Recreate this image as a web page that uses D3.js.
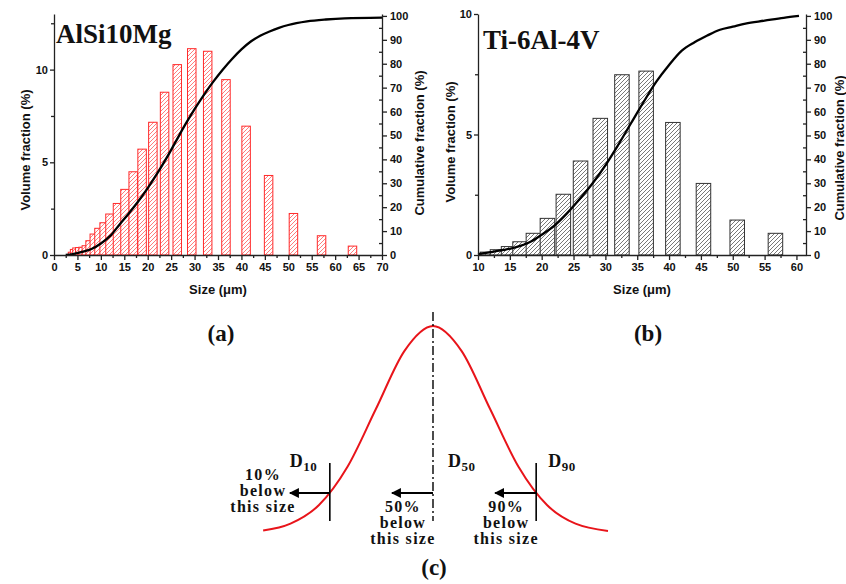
<!DOCTYPE html>
<html>
<head>
<meta charset="utf-8">
<script src="https://cdn.jsdelivr.net/npm/d3@7"></script>
<style>
body {margin:0; background:#fff;}
svg {display:block;}
.tick text {font-family:"Liberation Sans", Arial, sans-serif; font-weight:bold; font-size:11px; fill:#111;}
.domain, .tick line {stroke:#222; stroke-width:1.3;}
.label {font-family:"Liberation Sans", Arial, sans-serif; font-weight:bold; font-size:13px; fill:#111;}
.serif {font-family:"Liberation Serif", "Times New Roman", serif; font-weight:bold; fill:#111;}
</style>
</head>
<body>
<svg id="fig" width="846" height="584"></svg>
<script>

// panel (a) AlSi10Mg
var sizesA  = [3.95,4.4,4.9,5.5,6.2,6.9,7.7,8.6,9.6,10.7,11.95,13.55,15.15,16.9,18.8,21.1,23.6,26.3,29.4,32.8,36.7,41.0,45.8,51.1,57.1,63.7]
var volumeA = [0.15,0.3,0.38,0.4,0.42,0.5,0.77,1.13,1.44,1.74,2.21,2.78,3.54,4.49,5.71,7.16,8.78,10.27,11.13,10.99,9.46,6.95,4.29,2.24,1.04,0.48]
var cumSizeA = [2.5,4,6,8,10,12,14,16,18,20,22,24,26,28,30,32,34,36,38,40,42,44,46,48,50,54,58,62,70]
var cumA     = [0,0.4,1.3,2.5,4.8,8,12.8,17.5,22.5,28,34,40.5,47.5,54.5,61,67,72.5,77.5,82,86,89.3,91.7,93.5,95,96.2,97.7,98.5,99,99.3]
var ticksXA = [0,5,10,15,20,25,30,35,40,45,50,55,60,65,70]

// panel (b) Ti-6Al-4V
var sizesB  = [11.5,13.06,14.8,16.6,18.7,20.9,23.4,26.1,29.2,32.6,36.4,40.6,45.4,50.7,56.7]
var volumeB = [0.12,0.22,0.35,0.55,0.9,1.52,2.52,3.9,5.67,7.48,7.63,5.5,2.97,1.45,0.9]
var cumSizeB = [10,12,14,16,18,20,22,24,26,28,30,32,34,36,38,40,42,44,46,48,50,52,55,58,60.4]
var cumB     = [0.4,1.2,2.1,3.3,5.2,8.5,12.3,17.5,23.5,30,37.5,46,55,64,72.5,79.5,85.5,89,91.8,94.2,95.5,96.8,98,99.2,100]
var ticksXB = [10,15,20,25,30,35,40,45,50,55,60]

var ticksVol = [0,5,10]
var ticksCum = [0,10,20,30,40,50,60,70,80,90,100]

// panel (c) schematic distribution
var bellX = [-2.98,-2.5,-2,-1.5,-1,-0.5,0,0.5,1,1.5,2,2.5,3.07]
var bellY = [0.012,0.045,0.135,0.32,0.6,0.88,1,0.88,0.6,0.32,0.135,0.045,0.01]
var dNames = ["10","50","90"]
var dPos   = [-1.81,0,1.81]
var dArrowTo = [-2.51,-0.72,1.09]
var dText  = [["10%","below","this size"],["50%","below","this size"],["90%","below","this size"]]


var svg = d3.select("#fig")
var defs = svg.append("defs")

var makeHatch = function(id, color)
{
    var p = defs.append("pattern")
        .attr("id", id)
        .attr("width", 4)
        .attr("height", 4)
        .attr("patternUnits", "userSpaceOnUse")
    p.append("rect").attr("width", 4).attr("height", 4).attr("fill", "#fff")
    p.append("path")
        .attr("d", "M-1,1 l2,-2 M0,4 l4,-4 M3,5 l2,-2")
        .attr("stroke", color)
        .attr("stroke-width", 0.8)
}
makeHatch("hatchA", "#ff5c5c")
makeHatch("hatchB", "#555")

defs.append("marker")
    .attr("id", "arrow")
    .attr("viewBox", "0 0 10 10")
    .attr("refX", 9).attr("refY", 5)
    .attr("markerWidth", 10).attr("markerHeight", 10)
    .attr("markerUnits", "userSpaceOnUse")
    .attr("orient", "auto")
    .append("path")
    .attr("d", "M0,0 L10,5 L0,10 z")
    .attr("fill", "#000")


var drawPanel = function(p)
{
    var g = svg.append("g")

    var xScale = d3.scaleLinear().domain(p.xDomain).range([p.left, p.right])
    var yScale = d3.scaleLinear().domain([0, p.yMax]).range([p.bottom, p.top])
    var cumScale = d3.scaleLinear().domain([0, 100.8]).range([p.bottom, p.top])
    var barW = xScale(p.xDomain[0] + p.barWidth) - xScale(p.xDomain[0])

    g.append("g").selectAll("rect")
        .data(p.sizes)
        .enter()
        .append("rect")
        .attr("x", function(s) { return xScale(s) - barW/2 })
        .attr("y", function(s, i) { return yScale(p.volume[i]) })
        .attr("width", barW)
        .attr("height", function(s, i) { return p.bottom - yScale(p.volume[i]) })
        .attr("fill", "url(#" + p.hatch + ")")
        .attr("stroke", p.edge)
        .attr("stroke-width", 1)

    var line = d3.line()
        .x(function(d) { return xScale(d[0]) })
        .y(function(d) { return cumScale(d[1]) })
        .curve(d3.curveMonotoneX)

    g.append("path")
        .datum(d3.zip(p.cumSize, p.cum))
        .attr("d", line)
        .attr("fill", "none")
        .attr("stroke", "#000")
        .attr("stroke-width", 2.3)

    // minor ticks
    var minorX = d3.range(p.xTicks[0] + 2.5, p.xDomain[1], 5)
    g.append("g")
        .attr("transform", "translate(0," + p.bottom + ")")
        .call(d3.axisBottom(xScale).tickValues(minorX).tickSize(3).tickFormat("").tickSizeOuter(0))
        .select(".domain").remove()
    g.append("g")
        .attr("transform", "translate(" + p.left + ",0)")
        .call(d3.axisLeft(yScale).tickValues(d3.range(2.5, p.yMax, 5)).tickSize(3).tickFormat("").tickSizeOuter(0))
        .select(".domain").remove()
    g.append("g")
        .attr("transform", "translate(" + p.right + ",0)")
        .call(d3.axisLeft(cumScale).tickValues(d3.range(5, 100, 10)).tickSize(3).tickFormat("").tickSizeOuter(0))
        .select(".domain").remove()

    g.append("g")
        .attr("transform", "translate(0," + p.bottom + ")")
        .call(d3.axisBottom(xScale).tickValues(p.xTicks).tickSize(5).tickPadding(3).tickSizeOuter(0))
    g.append("g")
        .attr("transform", "translate(" + p.left + ",0)")
        .call(d3.axisLeft(yScale).tickValues(ticksVol).tickSize(4).tickPadding(2).tickSizeOuter(0))
    g.append("g")
        .attr("transform", "translate(" + p.right + ",0)")
        .call(d3.axisRight(cumScale).tickValues(ticksCum).tickSize(5).tickPadding(3).tickSizeOuter(0))

    g.append("text")
        .classed("label", true)
        .attr("text-anchor", "middle")
        .attr("x", (p.left + p.right)/2)
        .attr("y", p.bottom + 39)
        .text("Size (\u03bcm)")

    g.append("text")
        .classed("label", true)
        .attr("text-anchor", "middle")
        .attr("transform", "translate(" + p.volLabel[0] + "," + p.volLabel[1] + ") rotate(-90)")
        .attr("dy", "0.35em")
        .text("Volume fraction (%)")

    g.append("text")
        .classed("label", true)
        .attr("text-anchor", "middle")
        .attr("transform", "translate(" + p.cumLabel[0] + "," + p.cumLabel[1] + ") rotate(-90)")
        .attr("dy", "0.35em")
        .text("Cumulative fraction (%)")

    g.append("text")
        .classed("serif", true)
        .attr("x", p.title[0])
        .attr("y", p.title[1])
        .attr("font-size", 27)
        .text(p.name)

    g.append("text")
        .classed("serif", true)
        .attr("text-anchor", "middle")
        .attr("x", (p.left + p.right)/2 + p.tagShift)
        .attr("y", 341)
        .attr("font-size", 23)
        .text(p.tag)
}

drawPanel({
    name: "AlSi10Mg", tag: "(a)", tagShift: 3,
    sizes: sizesA, volume: volumeA, cumSize: cumSizeA, cum: cumA,
    xDomain: [0, 70], xTicks: ticksXA, yMax: 13,
    left: 54, right: 382, top: 14, bottom: 255,
    barWidth: 1.81, hatch: "hatchA", edge: "#ff2a2a",
    volLabel: [25, 150], cumLabel: [419, 143], title: [56, 43]
})

drawPanel({
    name: "Ti-6Al-4V", tag: "(b)", tagShift: 6,
    sizes: sizesB, volume: volumeB, cumSize: cumSizeB, cum: cumB,
    xDomain: [10, 61.5], xTicks: ticksXB, yMax: 10,
    left: 478, right: 806, top: 14, bottom: 255,
    barWidth: 2.28, hatch: "hatchB", edge: "#333",
    volLabel: [450, 142], cumLabel: [839, 148], title: [483, 49]
})


// panel (c)
var drawSchematic = function()
{
    var g = svg.append("g")
    var xC = d3.scaleLinear().domain([-3, 3]).range([262, 604])
    var yC = d3.scaleLinear().domain([0, 1]).range([533, 326])

    var bell = d3.line()
        .x(function(d) { return xC(d[0]) })
        .y(function(d) { return yC(d[1]) })
        .curve(d3.curveCardinal)

    g.append("path")
        .datum(d3.zip(bellX, bellY))
        .attr("d", bell)
        .attr("fill", "none")
        .attr("stroke", "#e8141a")
        .attr("stroke-width", 2)

    var crossY = 493 // height where D10 / D90 meet the curve

    dPos.forEach(function(d, i)
    {
        g.append("line")
            .attr("x1", xC(d)).attr("x2", xC(d))
            .attr("y1", i == 1 ? 312 : 463)
            .attr("y2", 521)
            .attr("stroke", "#000")
            .attr("stroke-width", i == 1 ? 1.4 : 1.6)
            .attr("stroke-dasharray", i == 1 ? "9,3,2,3" : null)

        g.append("line")
            .attr("x1", xC(d)).attr("x2", xC(dArrowTo[i]))
            .attr("y1", crossY).attr("y2", crossY)
            .attr("stroke", "#000")
            .attr("stroke-width", 2)
            .attr("marker-end", "url(#arrow)")

        var lab = g.append("text")
            .classed("serif", true)
            .attr("x", xC(d) + (i == 1 ? 15 : -40) + (i == 2 ? 52 : 0))
            .attr("y", 467)
            .attr("font-size", 18)
            .attr("letter-spacing", 0.5)
        lab.append("tspan").text("D")
        lab.append("tspan").attr("font-size", 13).attr("dy", 4).text(dNames[i])

        var cx = i == 0 ? 263 : xC(dArrowTo[i]) + 11
        var base = i == 0 ? 480 : 512
        dText[i].forEach(function(t, j)
        {
            g.append("text")
                .classed("serif", true)
                .attr("text-anchor", "middle")
                .attr("x", cx)
                .attr("y", base + j * 16)
                .attr("font-size", 16)
                .attr("letter-spacing", 1.3)
                .text(t)
        })
    })

    g.append("text")
        .classed("serif", true)
        .attr("text-anchor", "middle")
        .attr("x", 434)
        .attr("y", 575)
        .attr("font-size", 23)
        .text("(c)")
}
drawSchematic()

</script>
</body>
</html>
